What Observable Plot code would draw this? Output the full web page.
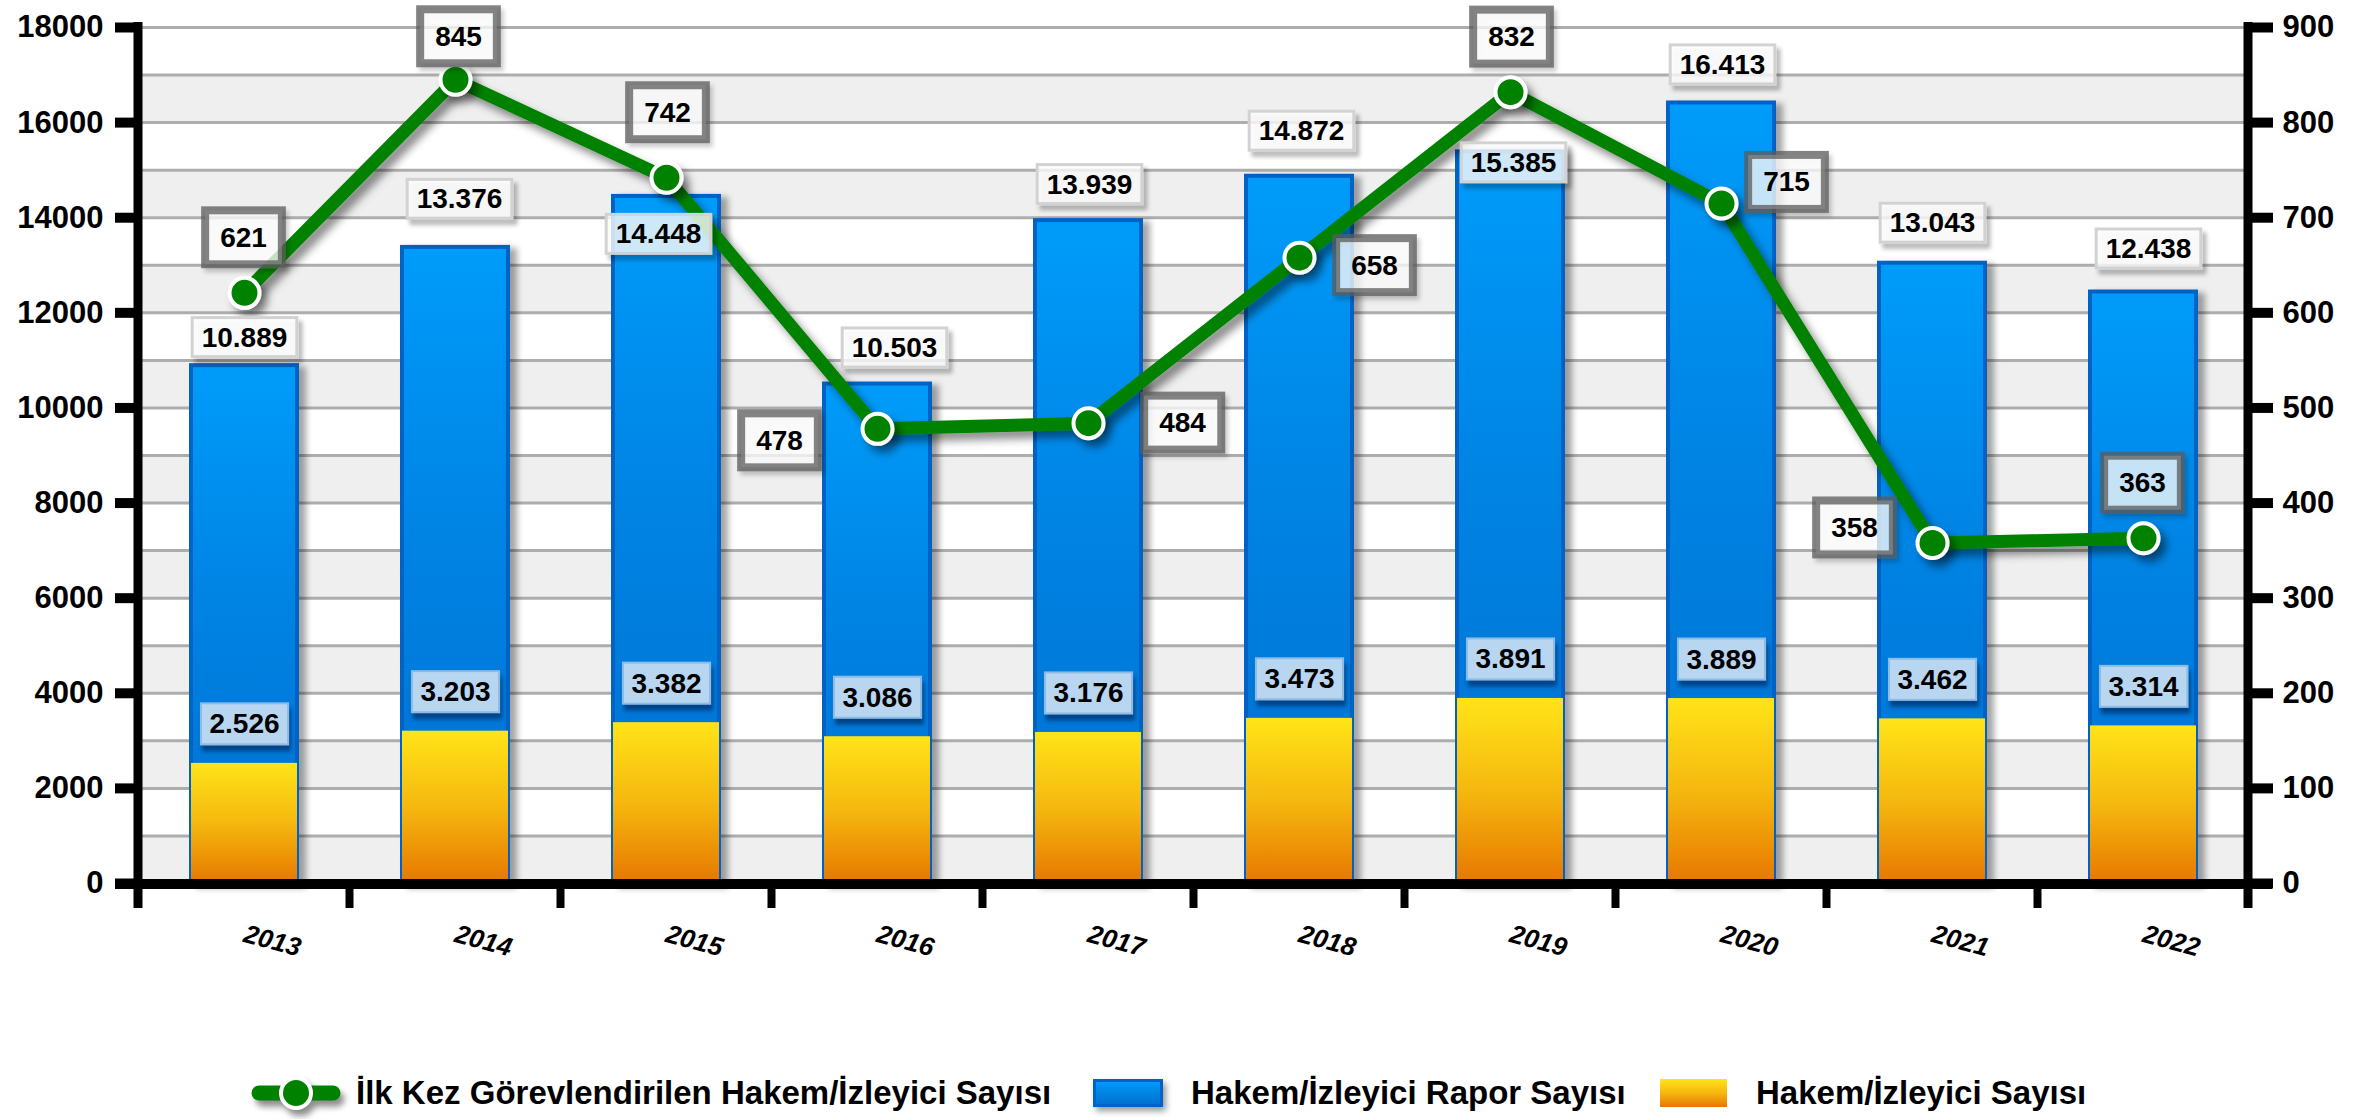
<!DOCTYPE html>
<html><head><meta charset="utf-8">
<script src="https://cdn.jsdelivr.net/npm/d3@7"></script>
<script src="https://cdn.jsdelivr.net/npm/@observablehq/plot@0.6"></script>
<style>
html,body{margin:0;padding:0;background:#fff;overflow:hidden;}
#chart{width:2358px;height:1119px;position:relative;}
.legend{position:relative;width:2358px;height:109px;font-family:"Liberation Sans",Arial,Helvetica,sans-serif;}
.legend .it{position:absolute;top:83px;transform:translateY(-50%);}
.legend .lt{font-size:33px;font-weight:bold;color:#000;white-space:nowrap;line-height:40px;}
</style></head>
<body><div id="chart"></div>
<script>
// ---- data ----
const years = ["2013","2014","2015","2016","2017","2018","2019","2020","2021","2022"];
const raporSayisi = [10889, 13376, 14448, 10503, 13939, 14872, 15385, 16413, 13043, 12438];
const hakemSayisi = [2526, 3203, 3382, 3086, 3176, 3473, 3891, 3889, 3462, 3314];
const ilkKezSayisi = [621, 845, 742, 478, 484, 658, 832, 715, 358, 363];
const leftTicks = [0, 2000, 4000, 6000, 8000, 10000, 12000, 14000, 16000, 18000];
const rightTicks = [0, 100, 200, 300, 400, 500, 600, 700, 800, 900];
const gridLines = [1000,2000,3000,4000,5000,6000,7000,8000,9000,10000,11000,12000,13000,14000,15000,16000,17000,18000];
const bandStarts = [0, 2000, 4000, 6000, 8000, 10000, 12000, 14000, 16000];
const seriesNames = ["İlk Kez Görevlendirilen Hakem/İzleyici Sayısı", "Hakem/İzleyici Rapor Sayısı", "Hakem/İzleyici Sayısı"];

// ---- label placement (layout, px offsets) ----
const raporPos = [[0,-28],[4,-48],[-8,38],[17,-36],[1,-36],[2,-45],[3,11],[1,-38],[0,-40],[5,-43]];
const ilkPos = [[-1,-55],[3,-43],[1,-65],[-98,12],[94,0],[75,8],[1,-55],[65,-21],[-78,-15],[-1,-55]];

const K = 18000 / 900; // right axis -> left axis
const rows = years.map((year, i) => ({year, rapor: raporSayisi[i], hakem: hakemSayisi[i], ilk: ilkKezSayisi[i]}));
const fmt = v => String(v).replace(/\B(?=(\d{3})+(?!\d))/g, ".");
const FONT = "Liberation Sans, Arial, Helvetica, sans-serif";
const lab = {fontSize: 28, fontWeight: "bold", fontFamily: FONT, fill: "black"};

const marks = [
  Plot.rect(bandStarts, {y1: d => d, y2: d => d + 1000, fill: "#efefef"}),
  Plot.ruleY(gridLines, {stroke: "#adadad", strokeWidth: 3}),
  Plot.barY(rows, {x: "year", y: "rapor", fill: "url(#gBlue)", stroke: "#0062c4", strokeWidth: 4, ariaDescription: "blue-bars"}),
  Plot.barY(rows, {x: "year", y: "hakem", fill: "url(#gOrange)", ariaDescription: "orange-bars"}),
  Plot.line(rows, {x: "year", y: d => d.ilk * K, stroke: "#008200", strokeWidth: 13, ariaDescription: "green-line"}),
  Plot.dot(rows, {x: "year", y: d => d.ilk * K, r: 15, fill: "#008200", stroke: "white", strokeWidth: 4, ariaDescription: "green-dots"}),
  Plot.text(rows, {x: "year", y: "hakem", text: d => fmt(d.hakem), dy: -39, ariaDescription: "hakem-label", ...lab}),
  ...rows.map((d, i) => Plot.text([d], {x: "year", y: "rapor", text: d => fmt(d.rapor), dx: raporPos[i][0], dy: raporPos[i][1], ariaDescription: "rapor-label", ...lab})),
  ...rows.map((d, i) => Plot.text([d], {x: "year", y: e => e.ilk * K, text: e => String(e.ilk), dx: ilkPos[i][0], dy: ilkPos[i][1], ariaDescription: "ilk-label", ...lab})),
  Plot.axisY({anchor: "left", ticks: leftTicks, tickFormat: d => String(d), tickSize: 23, tickPadding: 12, strokeWidth: 10, fontSize: 31, fontWeight: "bold", fontFamily: FONT, label: null}),
  Plot.axisY({anchor: "right", ticks: rightTicks.map(v => v * K), tickFormat: d => String(Math.round(d / K)), tickSize: 24, tickPadding: 10, strokeWidth: 10, fontSize: 31, fontWeight: "bold", fontFamily: FONT, label: null}),
  Plot.text(rows, {x: "year", y: () => 0, text: "year", dy: 50, rotate: 15, textAnchor: "start", fontSize: 26, fontStyle: "italic", fontWeight: "bold", fontFamily: FONT, fill: "black"})
];

const svg = Plot.plot({
  width: 2358, height: 1010,
  marginLeft: 138, marginRight: 110, marginTop: 27, marginBottom: 127,
  style: {fontFamily: FONT, background: "white", color: "black"},
  x: {type: "band", domain: years, paddingInner: 0.5, paddingOuter: 0.25, axis: null},
  y: {domain: [0, 18000], axis: null},
  marks
});
document.getElementById("chart").appendChild(svg);

// ---- defs: gradients & shadows ----
const s = d3.select(svg);
const defs = s.insert("defs", ":first-child");
function grad(id, stops) {
  const g = defs.append("linearGradient").attr("id", id).attr("x1", 0).attr("y1", 0).attr("x2", 0).attr("y2", 1);
  stops.forEach(([o, c]) => g.append("stop").attr("offset", o).attr("stop-color", c));
}
grad("gBlue", [[0, "#009cfa"], [0.4, "#0086e6"], [1, "#006ecf"]]);
grad("gOrange", [[0, "#ffe418"], [0.5, "#f5b80f"], [1, "#e77700"]]);
function shadow(id, dx, dy, sd, color, op) {
  defs.append("filter").attr("id", id).attr("x", "-20%").attr("y", "-20%").attr("width", "150%").attr("height", "150%")
    .append("feDropShadow").attr("dx", dx).attr("dy", dy).attr("stdDeviation", sd)
    .attr("flood-color", color).attr("flood-opacity", op);
}
shadow("shBar", 7, 3, 3, "#000", 0.35);
shadow("shLine", 6, 7, 4, "#000", 0.45);
shadow("shLab", 4, 5, 2, "#000", 0.3);
shadow("shHak", 2, 6, 2, "#00387a", 0.85);
shadow("shIlk", 3, 4, 2, "#000", 0.25);
const grp = name => s.selectAll(`g[aria-description="${name}"]`);
grp("blue-bars").attr("filter", "url(#shBar)");
grp("green-line").attr("filter", "url(#shLine)");
grp("green-dots").attr("filter", "url(#shLine)");

// ---- label boxes ----
const NS = "http://www.w3.org/2000/svg";
function boxes(name, padX, padY, attrs) {
  svg.querySelectorAll(`g[aria-description="${name}"] text`).forEach(t => {
    const b = t.getBBox();
    const r = document.createElementNS(NS, "rect");
    r.setAttribute("x", b.x - padX);
    r.setAttribute("y", b.y - padY);
    r.setAttribute("width", b.width + 2 * padX);
    r.setAttribute("height", b.height + 2 * padY);
    const tr = t.getAttribute("transform");
    if (tr) r.setAttribute("transform", tr);
    for (const k in attrs) r.setAttribute(k, attrs[k]);
    t.parentNode.insertBefore(r, t);
  });
}
boxes("hakem-label", 8.5, 5, {fill: "#b9d6f1", stroke: "#8cbbe6", "stroke-width": 2, filter: "url(#shHak)"});
boxes("rapor-label", 9.5, 4, {fill: "white", "fill-opacity": 0.78, stroke: "#d2d2d2", "stroke-width": 3, filter: "url(#shLab)"});
boxes("ilk-label", 15, 11.5, {fill: "white", "fill-opacity": 0.75, stroke: "#5c5c5c", "stroke-opacity": 0.75, "stroke-width": 8, filter: "url(#shIlk)"});

// ---- axis lines & category ticks ----
const xs = svg.scale("x"), ys = svg.scale("y");
const y0 = ys.apply(0), yTop = ys.apply(18000);
const xL = 138, xR = 2358 - 110;
const ax = s.append("g").attr("stroke", "black");
ax.append("line").attr("x1", xL).attr("x2", xL).attr("y1", yTop - 5).attr("y2", y0 + 25).attr("stroke-width", 9);
ax.append("line").attr("x1", xR).attr("x2", xR).attr("y1", yTop - 5).attr("y2", y0 + 25).attr("stroke-width", 9);
ax.append("line").attr("x1", xL - 23).attr("x2", xR + 24).attr("y1", y0 + 1).attr("y2", y0 + 1).attr("stroke-width", 10);
years.forEach((yr, i) => {
  const c = xs.apply(yr) + xs.bandwidth / 2;
  const bx = c + xs.step / 2;
  if (i < years.length - 1)
    ax.append("line").attr("x1", bx).attr("x2", bx).attr("y1", y0).attr("y2", y0 + 25).attr("stroke-width", 8);
});
</script>
<div class="legend">
  <svg class="it" style="left:254px;overflow:visible;filter:drop-shadow(4px 6px 3px rgba(0,0,0,0.45))" width="84" height="40">
    <line x1="5" x2="79" y1="20" y2="20" stroke="#008200" stroke-width="15" stroke-linecap="round"/>
    <circle cx="42" cy="20" r="15" fill="#008200" stroke="white" stroke-width="4"/>
  </svg>
  <span class="it lt" id="l1" style="left:356px"></span>
  <svg class="it" style="left:1093px;overflow:visible;filter:drop-shadow(3px 4px 3px rgba(0,0,0,0.4))" width="70" height="28">
    <defs><linearGradient id="lgB" x1="0" y1="0" x2="0" y2="1"><stop offset="0" stop-color="#009cfa"/><stop offset="1" stop-color="#006ecf"/></linearGradient></defs>
    <rect x="1.5" y="1.5" width="67" height="25" fill="url(#lgB)" stroke="#0062c4" stroke-width="3"/>
  </svg>
  <span class="it lt" id="l2" style="left:1191px"></span>
  <svg class="it" style="left:1660px;overflow:visible" width="67" height="28">
    <defs><linearGradient id="lgO" x1="0" y1="0" x2="0" y2="1"><stop offset="0" stop-color="#ffe418"/><stop offset="0.5" stop-color="#f5b80f"/><stop offset="1" stop-color="#e77700"/></linearGradient></defs>
    <rect x="0" y="0" width="67" height="28" fill="url(#lgO)"/>
  </svg>
  <span class="it lt" id="l3" style="left:1756px"></span>
</div>
<script>
document.getElementById("l1").textContent = seriesNames[0];
document.getElementById("l2").textContent = seriesNames[1];
document.getElementById("l3").textContent = seriesNames[2];
document.getElementById("chart").appendChild(document.querySelector(".legend"));
</script>
</body></html>
